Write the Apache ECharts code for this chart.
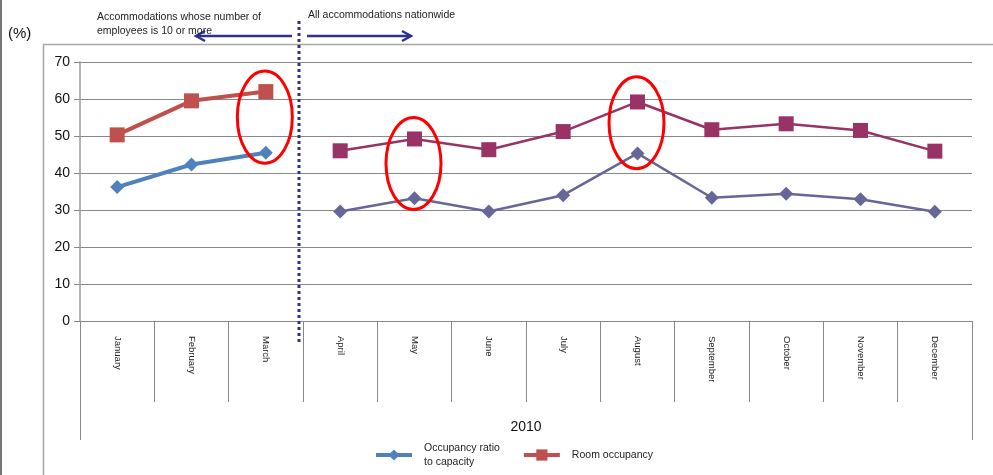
<!DOCTYPE html>
<html><head><meta charset="utf-8">
<script src="https://cdn.jsdelivr.net/npm/echarts@6/dist/echarts.min.js"></script>
<style>html,body{margin:0;padding:0;background:#fff}#c{width:993px;height:475px}</style>
</head><body><div id="c"></div>
<script>
const months = ['January','February','March','April','May','June','July','August','September','October','November','December'];
const yearLabel = ['2010'];
// Accommodations with 10+ employees (Jan-Mar)
const capacityPart1 = [36.2, 42.3, 45.5, null, null, null, null, null, null, null, null, null];
const roomPart1     = [50.3, 59.5, 62.0, null, null, null, null, null, null, null, null, null];
// All accommodations nationwide (Apr-Dec)
const capacityPart2 = [null, null, null, 29.6, 33.2, 29.6, 34.0, 45.3, 33.3, 34.4, 32.9, 29.5];
const roomPart2     = [null, null, null, 46.0, 49.2, 46.3, 51.2, 59.2, 51.7, 53.3, 51.5, 45.9];
const highlighted = [2, 4, 7]; // March, May, August
const capName = 'Occupancy ratio\nto capacity';
const roomName = 'Room occupancy';
const FONT = '"Liberation Sans", Arial, sans-serif';

const chart = echarts.init(document.getElementById('c'));
chart.setOption({
  animation: false,
  textStyle: { fontFamily: FONT },
  grid: { left: 80, right: 21, top: 62, bottom: 154 },
  legend: {
    data: [capName, roomName],
    bottom: 1, left: 369,
    itemWidth: 36, itemHeight: 14, itemGap: 22,
    lineStyle: { width: 4 },
    textStyle: { fontSize: 10.5, color: '#222', fontFamily: FONT, lineHeight: 14, padding: [0, 0, 0, 7] }
  },
  xAxis: [{
    type: 'category', data: months, position: 'bottom',
    axisLine: { lineStyle: { color: '#888', width: 1 } },
    axisTick: { show: true, length: 81, interval: 0, lineStyle: { color: '#888' } },
    axisLabel: { rotate: -90, interval: 0, fontSize: 9.5, color: '#222', margin: 15, fontFamily: FONT }
  }, {
    type: 'category', data: yearLabel, position: 'bottom',
    axisLine: { show: false },
    axisTick: { show: true, length: 119, lineStyle: { color: '#888' } },
    axisLabel: { fontSize: 14, color: '#111', margin: 99, fontFamily: FONT }
  }],
  yAxis: {
    type: 'value', min: 0, max: 70, interval: 10,
    axisLine: { show: true, lineStyle: { color: '#999', width: 1.5 } },
    axisTick: { show: true, length: 6, lineStyle: { color: '#888' } },
    axisLabel: { fontSize: 14, color: '#111', margin: 10, fontFamily: FONT },
    splitLine: { lineStyle: { color: '#888', width: 1 } }
  },
  series: [
    { name: capName, type: 'line', data: capacityPart1, symbol: 'diamond', symbolSize: 14,
      lineStyle: { width: 4, color: '#4F81BD' }, itemStyle: { color: '#4F81BD' }, z: 3 },
    { name: roomName, type: 'line', data: roomPart1, symbol: 'rect', symbolSize: 15,
      lineStyle: { width: 4, color: '#C0504D' }, itemStyle: { color: '#C0504D' }, z: 3 },
    { name: capName, type: 'line', data: capacityPart2, symbol: 'diamond', symbolSize: 14,
      lineStyle: { width: 2.5, color: '#666699' }, itemStyle: { color: '#666699' }, z: 3 },
    { name: roomName, type: 'line', data: roomPart2, symbol: 'rect', symbolSize: 15,
      lineStyle: { width: 2.5, color: '#993366' }, itemStyle: { color: '#993366' }, z: 3 }
  ]
});

// annotations derived from data positions
function px(i, v) { return chart.convertToPixel({ xAxisIndex: 0, yAxisIndex: 0 }, [i, v]); }
const graphics = [];
const navy = '#2E3192';
// page border and chart-area frame
graphics.push({ type: 'line', shape: { x1: 1, y1: 0, x2: 1, y2: 475 }, style: { stroke: '#777', lineWidth: 2 } });
graphics.push({ type: 'polyline', shape: { points: [[43.5, 475], [43.5, 44.5], [993, 44.5]] }, style: { stroke: '#A6A6A6', lineWidth: 1.5, fill: null } });
// divider between March and April
const pM = px(2, 0), pA = px(3, 0);
const divX = (pM[0] + pA[0]) / 2 - 4;
graphics.push({ type: 'line', z: 10, shape: { x1: divX, y1: 21, x2: divX, y2: 345 },
  style: { stroke: navy, lineWidth: 3, lineDash: [3, 3] } });
// arrows
const ay = 36;
graphics.push({ type: 'polyline', shape: { points: [[divX - 7, ay], [196, ay]] }, style: { stroke: navy, lineWidth: 2.5, fill: null } });
graphics.push({ type: 'polyline', shape: { points: [[205, ay - 5], [196, ay], [205, ay + 5]] }, style: { stroke: navy, lineWidth: 2.5, fill: null } });
graphics.push({ type: 'polyline', shape: { points: [[divX + 8, ay], [411, ay]] }, style: { stroke: navy, lineWidth: 2.5, fill: null } });
graphics.push({ type: 'polyline', shape: { points: [[402, ay - 5], [411, ay], [402, ay + 5]] }, style: { stroke: navy, lineWidth: 2.5, fill: null } });
// texts
graphics.push({ type: 'text', left: 97, top: 10, style: { text: 'Accommodations whose number of\nemployees is 10 or more', fontSize: 10.5, lineHeight: 14, fill: '#222', fontFamily: FONT } });
graphics.push({ type: 'text', left: 308, top: 10, style: { text: 'All accommodations nationwide', fontSize: 10.5, fill: '#222', fontFamily: FONT } });
graphics.push({ type: 'text', left: 8, top: 26, style: { text: '(%)', fontSize: 15, fill: '#111', fontFamily: FONT } });
// red ellipses around highlighted months
highlighted.forEach(i => {
  const cap = capacityPart1[i] != null ? capacityPart1[i] : capacityPart2[i];
  const room = roomPart1[i] != null ? roomPart1[i] : roomPart2[i];
  const top = px(i, room), bot = px(i, cap);
  const cy = (top[1] + bot[1]) / 2 - 5;
  graphics.push({ type: 'ellipse', z: 20, shape: { cx: top[0] - 1, cy: cy, rx: 27.5, ry: 46 },
    style: { fill: null, stroke: '#FF0000', lineWidth: 3 } });
});
chart.setOption({ graphic: graphics });
</script>
</body></html>
